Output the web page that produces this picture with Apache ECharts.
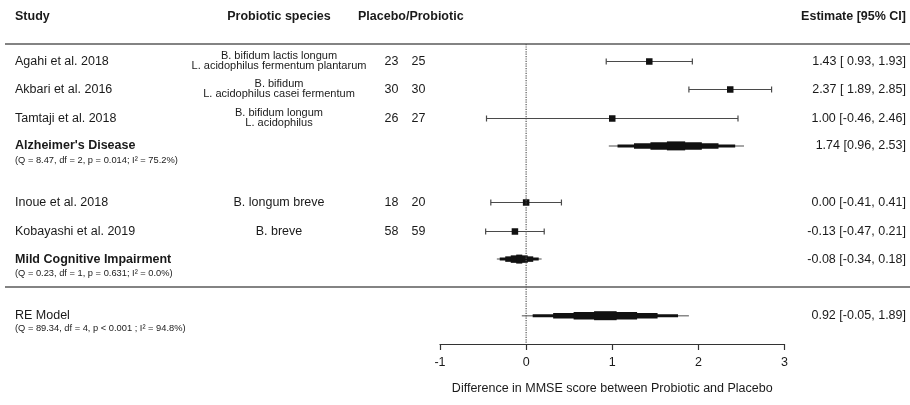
<!DOCTYPE html>
<html><head><meta charset="utf-8">
<script src="https://cdn.jsdelivr.net/npm/echarts/dist/echarts.min.js"></script>
<style>html,body{margin:0;padding:0;background:#fff}#c{width:910px;height:405px}</style>
</head><body><div id="c"></div>
<script>
// ---- data ----
const studies = ['Agahi et al. 2018', 'Akbari et al. 2016', 'Tamtaji et al. 2018', 'Inoue et al. 2018', 'Kobayashi et al. 2019'];
const species = [
  'B. bifidum lactis longum\nL. acidophilus fermentum plantarum',
  'B. bifidum\nL. acidophilus casei fermentum',
  'B. bifidum longum\nL. acidophilus',
  'B. longum breve',
  'B. breve'
];
const placebo = [23, 30, 26, 18, 58];
const probiotic = [25, 30, 27, 20, 59];
const estimate = [1.43, 2.37, 1.00, 0.00, -0.13];
const lower = [0.93, 1.89, -0.46, -0.41, -0.47];
const upper = [1.93, 2.85, 2.46, 0.41, 0.21];
const studyRow = [0, 1, 2, 5, 6];

const summaryNames = ["Alzheimer's Disease", 'Mild Cognitive Impairment', 'RE Model'];
const summaryStats = [
  '(Q = 8.47, df = 2, p = 0.014; I\u00B2 = 75.2%)',
  '(Q = 0.23, df = 1, p = 0.631; I\u00B2 = 0.0%)',
  '(Q = 89.34, df = 4, p < 0.001 ; I\u00B2 = 94.8%)'
];
const summaryEst = [1.74, -0.08, 0.92];
const summaryLower = [0.96, -0.34, -0.05];
const summaryUpper = [2.53, 0.18, 1.89];
const summaryRow = [3, 7, 9];

const xTicks = [-1, 0, 1, 2, 3];
const headers = ['Study', 'Probiotic species', 'Placebo/Probiotic', 'Estimate [95% CI]'];
const axisTitle = 'Difference in MMSE score between Probiotic and Placebo';

// ---- layout ----
const FONT = 'Liberation Sans, Arial, sans-serif';
const TXT = '#1a1a1a';
const colStudy = 15, colSpecies = 279, colPlac = 391.5, colProb = 418.5, colEst = 906;
const sepRow = 8;

function f2(v){ return v.toFixed(2); }
function pad(v){ return (v >= 0 ? ' ' : '') + f2(v); }
function txt(t, x, y, opt){
  return {type:'text', style: Object.assign({
    text: t, x: x, y: y, fill: TXT, fontSize: 12.5, fontFamily: FONT,
    align: 'left', verticalAlign: 'middle'
  }, opt || {})};
}

const chart = echarts.init(document.getElementById('c'), null, {renderer:'canvas'});

function renderStudy(params, api){
  const i = api.value(4), row = api.value(3);
  const c = api.coord([api.value(0), row]);
  const l = api.coord([api.value(1), row]);
  const h = api.coord([api.value(2), row]);
  const y = Math.round(c[1]) + 0.5;
  const s = 6.5;
  const ls = {stroke:'#4a4a4a', lineWidth:1.2};
  const two = species[i].indexOf('\n') >= 0;
  return {type:'group', children:[
    {type:'line', shape:{x1:l[0], y1:y, x2:h[0], y2:y}, style:ls},
    {type:'line', shape:{x1:l[0], y1:y-3, x2:l[0], y2:y+3}, style:ls},
    {type:'line', shape:{x1:h[0], y1:y-3, x2:h[0], y2:y+3}, style:ls},
    {type:'rect', shape:{x:c[0]-s/2, y:y-s/2, width:s, height:s}, style:{fill:'#111'}},
    txt(studies[i], colStudy, y),
    txt(species[i], colSpecies, two ? y - 0.5 : y, {align:'center', fontSize: two ? 11 : 12.5, lineHeight: 10.7}),
    txt(String(placebo[i]), colPlac, y, {align:'center'}),
    txt(String(probiotic[i]), colProb, y, {align:'center'}),
    txt(f2(api.value(0)) + ' [' + pad(api.value(1)) + ', ' + f2(api.value(2)) + ']', colEst, y, {align:'right'})
  ]};
}

function renderSummary(params, api){
  const i = api.value(4), row = api.value(3);
  const c = api.coord([api.value(0), row]);
  const l = api.coord([api.value(1), row]);
  const h = api.coord([api.value(2), row]);
  const y = c[1];
  const lw = c[0] - l[0], rw = h[0] - c[0];
  const layers = [[0.87, 3], [0.625, 5.5], [0.38, 7.5], [0.135, 9]];
  const ch = [{type:'line', shape:{x1:l[0], y1:y, x2:h[0], y2:y}, style:{stroke:'#888', lineWidth:1.5}}];
  layers.forEach(function(L){
    ch.push({type:'rect', shape:{x:c[0]-lw*L[0], y:y-L[1]/2, width:(lw+rw)*L[0], height:L[1]}, style:{fill:'#111'}});
  });
  const bold = i < 2;
  ch.push(txt(summaryNames[i], colStudy, y, {fontWeight: bold ? 'bold' : 'normal'}));
  ch.push(txt(summaryStats[i], colStudy, y + (i < 2 ? 14.5 : 13), {fontSize: 9.3}));
  ch.push(txt(f2(api.value(0)) + ' [' + f2(api.value(1)) + ', ' + f2(api.value(2)) + ']', colEst, y, {align:'right'}));
  return {type:'group', children: ch};
}

const yMin = -0.6, yMax = 10;

chart.setOption({
  animation: false,
  textStyle: {fontFamily: FONT},
  grid: {left: 440, right: 125.5, top: 44, bottom: 61},
  xAxis: {
    type: 'value', min: xTicks[0], max: xTicks[xTicks.length-1], interval: 1,
    splitLine: {show:false},
    axisLine: {show:true, onZero:false, lineStyle:{color:'#333', width:1.2}},
    axisTick: {show:true, length:6, lineStyle:{color:'#333', width:1.2}},
    axisLabel: {color: TXT, fontSize: 12.5, margin: 12, fontFamily: FONT},
    name: axisTitle, nameLocation: 'middle', nameGap: 38,
    nameTextStyle: {color: TXT, fontSize: 12.5, fontFamily: FONT}
  },
  yAxis: {type:'value', min: yMin, max: yMax, inverse: true, show: false},
  series: [
    {
      type: 'line', data: [[0, yMin], [0, yMax]], showSymbol: false, silent: true,
      lineStyle: {type: 'dotted', color: '#555', width: 1.2}
    },
    {
      type: 'custom', renderItem: renderStudy, clip: false, silent: true,
      data: studies.map(function(s, i){ return [estimate[i], lower[i], upper[i], studyRow[i], i]; })
    },
    {
      type: 'custom', renderItem: renderSummary, clip: false, silent: true,
      data: summaryNames.map(function(s, i){ return [summaryEst[i], summaryLower[i], summaryUpper[i], summaryRow[i], i]; })
    }
  ]
});

// header texts and horizontal rules spanning the whole table, rules positioned from the row scale
const yTop = Math.round(chart.convertToPixel({gridIndex:0}, [0, yMin])[1]);
const ySep = Math.round(chart.convertToPixel({gridIndex:0}, [0, sepRow])[1]);
const hs = {fill: TXT, fontWeight:'bold', fontSize: 12.5, fontFamily: FONT, verticalAlign:'middle'};
chart.setOption({graphic: [
  {id:'h0', type:'text', x: colStudy, y: 17, style: Object.assign({text: headers[0], align:'left'}, hs)},
  {id:'h1', type:'text', x: colSpecies, y: 17, style: Object.assign({text: headers[1], align:'center'}, hs)},
  {id:'h2', type:'text', x: 358, y: 17, style: Object.assign({text: headers[2], align:'left'}, hs)},
  {id:'h3', type:'text', x: colEst, y: 17, style: Object.assign({text: headers[3], align:'right'}, hs)},
  {id:'r0', type:'line', shape:{x1:5, y1:yTop, x2:910, y2:yTop}, style:{stroke:'#5a5a5a', lineWidth:1.5}, z: 10},
  {id:'r1', type:'line', shape:{x1:5, y1:ySep, x2:910, y2:ySep}, style:{stroke:'#5a5a5a', lineWidth:1.5}, z: 10}
]});
</script></body></html>
